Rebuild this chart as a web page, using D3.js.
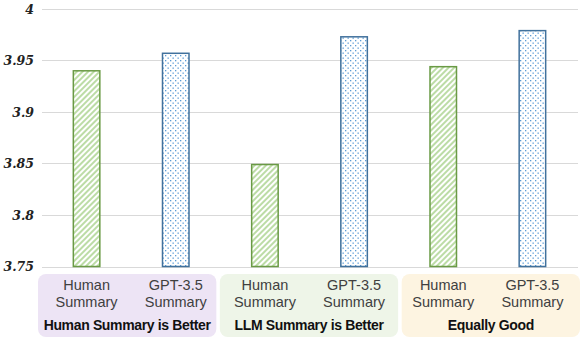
<!DOCTYPE html>
<html><head><meta charset="utf-8">
<script src="https://cdn.jsdelivr.net/npm/d3@7"></script>
<style>body{margin:0;background:#fff}svg{display:block}</style>
</head><body>
<svg id="c" width="586" height="340"></svg>
<script>
const groups = ["Human Summary is Better", "LLM Summary is Better", "Equally Good"];
const groupColors = ["#ede4f5", "#eef5e8", "#fdf4e1"];
const seriesNames = ["Human Summary", "GPT-3.5 Summary"];
const humanValues = [3.940, 3.849, 3.944];
const gptValues = [3.957, 3.973, 3.979];
const yTicks = [3.75, 3.8, 3.85, 3.9, 3.95, 4];

const svg = d3.select("#c");
const defs = svg.append("defs");
const hatch = defs.append("pattern").attr("id","hatch").attr("patternUnits","userSpaceOnUse")
  .attr("width",4).attr("height",4).attr("patternTransform","rotate(45)");
hatch.append("rect").attr("width",4).attr("height",4).attr("fill","#fff");
hatch.append("rect").attr("width",2).attr("height",4).attr("fill","#bcdca6");
const dots = defs.append("pattern").attr("id","dots").attr("patternUnits","userSpaceOnUse")
  .attr("width",5).attr("height",5);
dots.append("rect").attr("width",5).attr("height",5).attr("fill","#fff");
dots.append("rect").attr("x",0).attr("y",0).attr("width",1.3).attr("height",1.3).attr("fill","#5b9bd5");
dots.append("rect").attr("x",2.5).attr("y",2.5).attr("width",1.3).attr("height",1.3).attr("fill","#5b9bd5");

const bars = [];
groups.forEach((g,i)=>{
  bars.push({key:g+"|0", group:i, series:0, value:humanValues[i]});
  bars.push({key:g+"|1", group:i, series:1, value:gptValues[i]});
});

const x = d3.scaleBand().domain(bars.map(d=>d.key)).range([42,577]);
const y = d3.scaleLinear().domain([3.75,4]).range([266.5,9]);
const barW = 28;
const xg = d3.scaleBand().domain(groups).range([38,580]).paddingInner(0.0193).paddingOuter(0);

// gridlines
svg.append("g").selectAll("line").data(yTicks).join("line")
  .attr("x1",42).attr("x2",578)
  .attr("y1",d=>Math.round(y(d))+0.5).attr("y2",d=>Math.round(y(d))+0.5)
  .attr("stroke","#d9d9d9").attr("stroke-width",1);

// y axis labels
const yAxis = d3.axisLeft(y).tickValues(yTicks).tickSize(0).tickPadding(0).tickFormat(d=>String(d));
const ya = svg.append("g").attr("transform","translate(34,0)").call(yAxis);
ya.select(".domain").remove();
ya.selectAll("text").attr("font-family","'DejaVu Serif', serif").attr("font-style","italic")
  .attr("font-weight","bold").attr("font-size",12.5).attr("fill","#222");

// bars
svg.append("g").selectAll("rect").data(bars).join("rect")
  .attr("x",d=>x(d.key)+x.bandwidth()/2-barW/2+0.75)
  .attr("y",d=>y(d.value))
  .attr("width",barW-1.5)
  .attr("height",d=>y(3.75)-y(d.value))
  .attr("fill",d=>d.series===0?"url(#hatch)":"url(#dots)")
  .attr("stroke",d=>d.series===0?"#6a9a45":"#41719c")
  .attr("stroke-width",1.5);

// group boxes
groups.forEach((g,i)=>{
  svg.append("rect").attr("x",xg(g)).attr("y",274).attr("width",xg.bandwidth()).attr("height",63)
    .attr("rx",8).attr("fill",groupColors[i]);
  [0,1].forEach(s=>{
    const cx = x(g+"|"+s)+x.bandwidth()/2;
    const words = seriesNames[s].split(" ");
    const t = svg.append("text").attr("x",cx).attr("text-anchor","middle")
      .attr("font-family","'Liberation Sans', Arial, sans-serif").attr("font-size",14.5).attr("fill","#404040");
    t.append("tspan").attr("x",cx).attr("y",289.5).text(words[0]);
    t.append("tspan").attr("x",cx).attr("y",306.5).text(words[1]);
  });
  svg.append("text").attr("x",xg(g)+xg.bandwidth()/2).attr("y",329.5).attr("text-anchor","middle")
    .attr("font-family","'Liberation Sans', Arial, sans-serif").attr("font-weight","bold")
    .attr("font-size",14).attr("letter-spacing",-0.35).attr("fill","#111").text(g);
});
</script>
</body></html>
